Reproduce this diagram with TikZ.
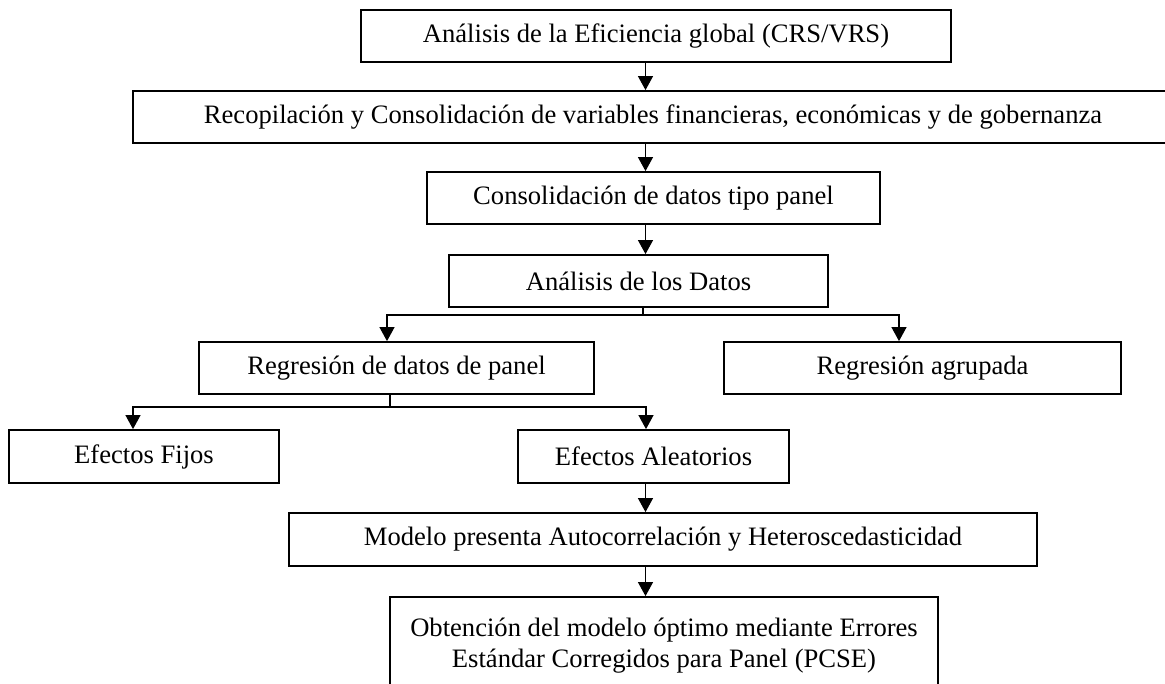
\documentclass[tikz,border=0pt]{standalone}
\usepackage{fontspec}
\setmainfont{Liberation Serif}
\usetikzlibrary{arrows.meta}
\tikzset{
  box/.style={draw, line width=1.8pt, rectangle, inner sep=0pt, align=center,
    font=\fontsize{26.6}{31}\selectfont},
  arr/.style={line width=1.1pt, -{Triangle[width=15pt,length=14pt]}},
  ln/.style={line width=1.1pt}
}
\begin{document}
\begin{tikzpicture}[x=1pt,y=-1pt]
\useasboundingbox (0,0) rectangle (1165,683);
\clip (0,0) rectangle (1165,683);
\fill[white] (0,0) rectangle (1165,683);
\node[box, minimum width=590pt, minimum height=52pt] (b1) at (656,36) {Análisis de la Eficiencia global (CRS/VRS)};
\node[box, minimum width=1040pt, minimum height=52pt] (b2) at (653,117) {Recopilación y Consolidación de variables financieras, económicas y de gobernanza};
\node[box, minimum width=453pt, minimum height=52pt] (b3) at (653.5,198) {Consolidación de datos tipo panel};
\node[box, minimum width=379pt, minimum height=52pt] (b4) at (638.5,281) {Análisis de los Datos};
\node[box, minimum width=395pt, minimum height=52pt] (b5) at (396.5,368) {Regresión de datos de panel};
\node[box, minimum width=397pt, minimum height=52pt] (b6) at (922.5,368) {Regresión agrupada};
\node[box, minimum width=270pt, minimum height=53pt] (b7) at (144,456.5) {Efectos Fijos};
\node[box, minimum width=271pt, minimum height=53pt] (b8) at (653.5,456.5) {Efectos Aleatorios};
\node[box, minimum width=748pt, minimum height=53pt] (b9) at (663,539.5) {Modelo presenta Autocorrelación y Heteroscedasticidad};
\node[box, minimum width=548pt, minimum height=98pt] (b10) at (664,646) {Obtención del modelo óptimo mediante Errores\\Estándar Corregidos para Panel (PCSE)};
\coordinate (sp) at (645.5,0);
\coordinate (j1) at (643,315);
\coordinate (j2) at (390,407);
\draw[arr] (b1.south -| sp) -- (b2.north -| sp);
\draw[arr] (b2.south -| sp) -- (b3.north -| sp);
\draw[arr] (b3.south -| sp) -- (b4.north -| sp);
\draw[ln] (b4.south -| j1) -- (j1);
\draw[arr] (j1) -| ([xshift=-9.5pt]b5.north);
\draw[arr] (j1) -| ([xshift=-23.5pt]b6.north);
\draw[ln] (b5.south -| j2) -- (j2);
\draw[arr] (j2) -| ([xshift=-11pt]b7.north);
\draw[arr] (j2) -| ([xshift=-7.5pt]b8.north);
\draw[arr] (b8.south -| sp) -- (b9.north -| sp);
\draw[arr] (b9.south -| sp) -- (b10.north -| sp);
\end{tikzpicture}
\end{document}
